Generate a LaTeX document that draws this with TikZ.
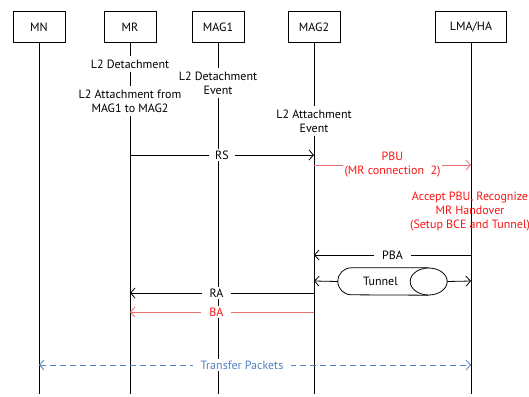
\documentclass[tikz,border=0pt]{standalone}
\usepackage{fontspec}
\setmainfont{PT Sans}
\definecolor{msgred}{RGB}{250, 20, 20}
\definecolor{linered}{RGB}{232, 112, 112}
\definecolor{pktblue}{RGB}{84, 130, 196}
\usetikzlibrary{
  arrows.meta,
  positioning,
  shapes.geometric,
  calc
}
\tikzset{
  entity/.style={draw, line width=0.8pt, minimum width=52pt, minimum height=31pt, inner sep=0pt},
  lifeline/.style={line width=0.8pt},
  evt/.style={align=center, inner sep=3pt},
  msg/.style={line width=0.8pt, -{Straight Barb[length=4.5pt, width=10pt]}},
  lbl/.style={fill=white, inner sep=2pt, align=center}
}

\begin{document}
\begin{tikzpicture}[x=1pt, y=-1pt, font=\fontsize{12}{14}\selectfont]
\useasboundingbox (0,0) rectangle (529,396);

% entities
\node[entity] (mn)   at (39,27)  {MN};
\node[entity] (mr)   at (130,27) {MR};
\node[entity] (mag1) at (218,27) {MAG1};
\node[entity] (mag2) at (314,27) {MAG2};
\node[entity, minimum width=71pt] (lma) at (471,27) {LMA/HA};

% events on the lifelines
\node[evt] (mrDet)   at (130,64)  {L2 Detachment};
\node[evt] (mrAtt)   at (130,101) {L2 Attachment from\\MAG1 to MAG2};
\node[evt] (mag1Det) at (218,83)  {L2 Detachment\\Event};
\node[evt] (mag2Att) at (314,121) {L2 Attachment\\Event};

% lifeline ends
\coordinate (mnEnd)   at (39,394);
\coordinate (mrEnd)   at (130,394);
\coordinate (mag1End) at (218,394);
\coordinate (mag2End) at (314,394);
\coordinate (lmaEnd)  at (471,394);

\draw[lifeline] (mn) -- (mnEnd);
\draw[lifeline] (mr) -- (mrDet) -- (mrAtt) -- (mrEnd);
\draw[lifeline] (mag1) -- (mag1Det) -- (mag1End);
\draw[lifeline] (mag2) -- (mag2Att) -- (mag2End);
\draw[lifeline] (lma) -- (lmaEnd);

% message ends
\coordinate (rsFrom)  at (130,155);
\coordinate (rsTo)    at (314,155);
\coordinate (pbuFrom) at (314,165);
\coordinate (pbuTo)   at (471,165);
\coordinate (pbaFrom) at (471,255);
\coordinate (pbaTo)   at (314,255);
\coordinate (tunL)    at (314,281);
\coordinate (tunR)    at (471,281);
\coordinate (raFrom)  at (314,293);
\coordinate (raTo)    at (130,293);
\coordinate (baFrom)  at (314,312);
\coordinate (baTo)    at (130,312);
\coordinate (pktL)    at (39,365);
\coordinate (pktR)    at (471,365);

% messages
\draw[msg] (rsFrom) -- node[lbl, inner xsep=6pt] (rs) {RS} (rsTo);
\draw[msg, draw=linered] (pbuFrom) -- node[lbl, text=msgred] (pbu) {PBU\\(MR connection~~2)} (pbuTo);
\node[evt, text=msgred] (accept) at (470,212) {Accept PBU, Recognize\\MR Handover\\(Setup BCE and Tunnel)};
\draw[msg] (pbaFrom) -- node[lbl, inner xsep=8pt] (pba) {PBA} (pbaTo);

% tunnel (cylinder lying on its side)
\node[minimum width=109pt, minimum height=27pt, inner sep=0pt] (tunnel) at (392.5,281.5) {};
\draw[line width=0.8pt, fill=white]
  ($(tunnel.north east)+(-18.5,0)$) -- ($(tunnel.north west)+(13.5,0)$)
  arc[start angle=270, end angle=90, x radius=13.5, y radius=13.5]
  -- ($(tunnel.south east)+(-18.5,0)$);
\draw[line width=0.8pt, fill=white] ($(tunnel.east)+(-18.5,0)$) ellipse[x radius=18.5, y radius=13.5];
\node (tunnelLbl) at ($(tunnel.center)+(-12,0)$) {Tunnel};
\draw[msg] (tunnel.west) -- (tunL);
\draw[msg] (tunnel.east) -- (tunR);

\draw[msg] (raFrom) -- node[lbl, inner xsep=8pt, pos=0.53] (ra) {RA} (raTo);
\draw[msg, draw=linered] (baFrom) -- node[lbl, inner xsep=8pt, pos=0.53, text=msgred] (ba) {BA} (baTo);
\draw[msg, draw=pktblue, dashed, dash pattern=on 6pt off 4pt, {Straight Barb[length=4.5pt, width=10pt]}-{Straight Barb[length=4.5pt, width=10pt]}]
  (pktL) -- node[lbl, inner xsep=8pt, pos=0.47, text=pktblue] (pkt) {Transfer Packets} (pktR);
\end{tikzpicture}
\end{document}
